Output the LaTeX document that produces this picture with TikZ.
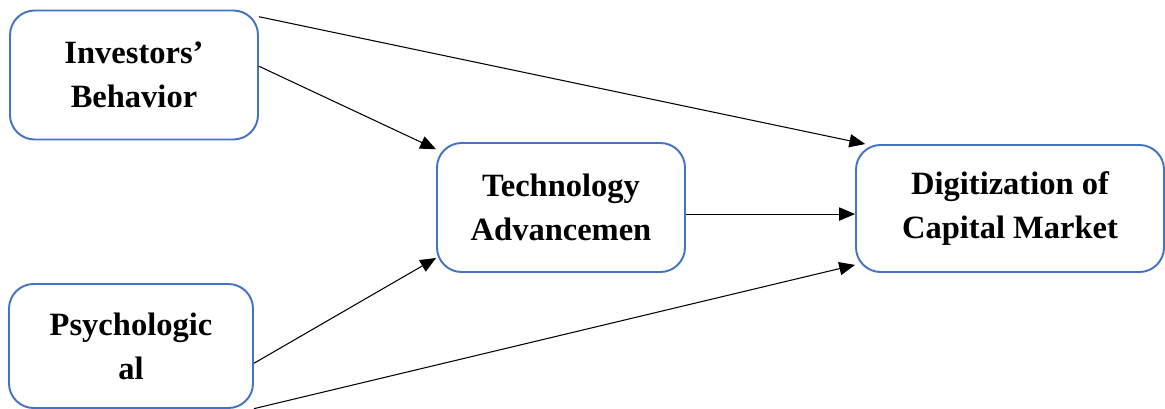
\documentclass[tikz,border=0pt]{standalone}
\usepackage{fontspec}
\setmainfont{Liberation Serif}
\usepackage{tikz}
\usetikzlibrary{arrows.meta,positioning}
\definecolor{boxblue}{HTML}{4472C4}

\begin{document}
\begin{tikzpicture}[
    >=Triangle,
    varbox/.style={
      draw=boxblue, line width=1.1pt, rounded corners=14pt, fill=white,
      font=\fontsize{18.5}{25}\selectfont\bfseries, align=center,
      minimum width=#1, inner sep=4pt,
    },
    arr/.style={-{Triangle[length=9pt,width=7.5pt]}, line width=0.6pt, black},
  ]
  \useasboundingbox (0,0) rectangle (23.3,-8.18);

  % =================== VARIABLES ===================
  \node[varbox=4.96cm, minimum height=2.58cm] (inv) at (2.68,-1.5) {Investors’\\Behavior};
  \node[varbox=4.88cm, minimum height=2.48cm] (psy) at (2.62,-6.92) {Psychologic\\al};
  \node[varbox=4.96cm, minimum height=2.58cm] (tech) at (11.22,-4.15) {Technology\\Advancemen};
  \node[varbox=6.16cm, minimum height=2.54cm] (dig) at (20.2,-4.17) {Digitization of\\Capital Market};

  % =================== PATHS ===================
  \draw[arr] (inv.25) -- (dig.156);
  \draw[arr] (inv.4) -- (tech.155);
  \draw[arr] (tech.-3) -- (tech.-3 -| dig.west);
  \draw[arr] (psy.-8) -- (tech.202);
  \draw[arr] (psy.-27) -- (dig.200);

\end{tikzpicture}
\end{document}
